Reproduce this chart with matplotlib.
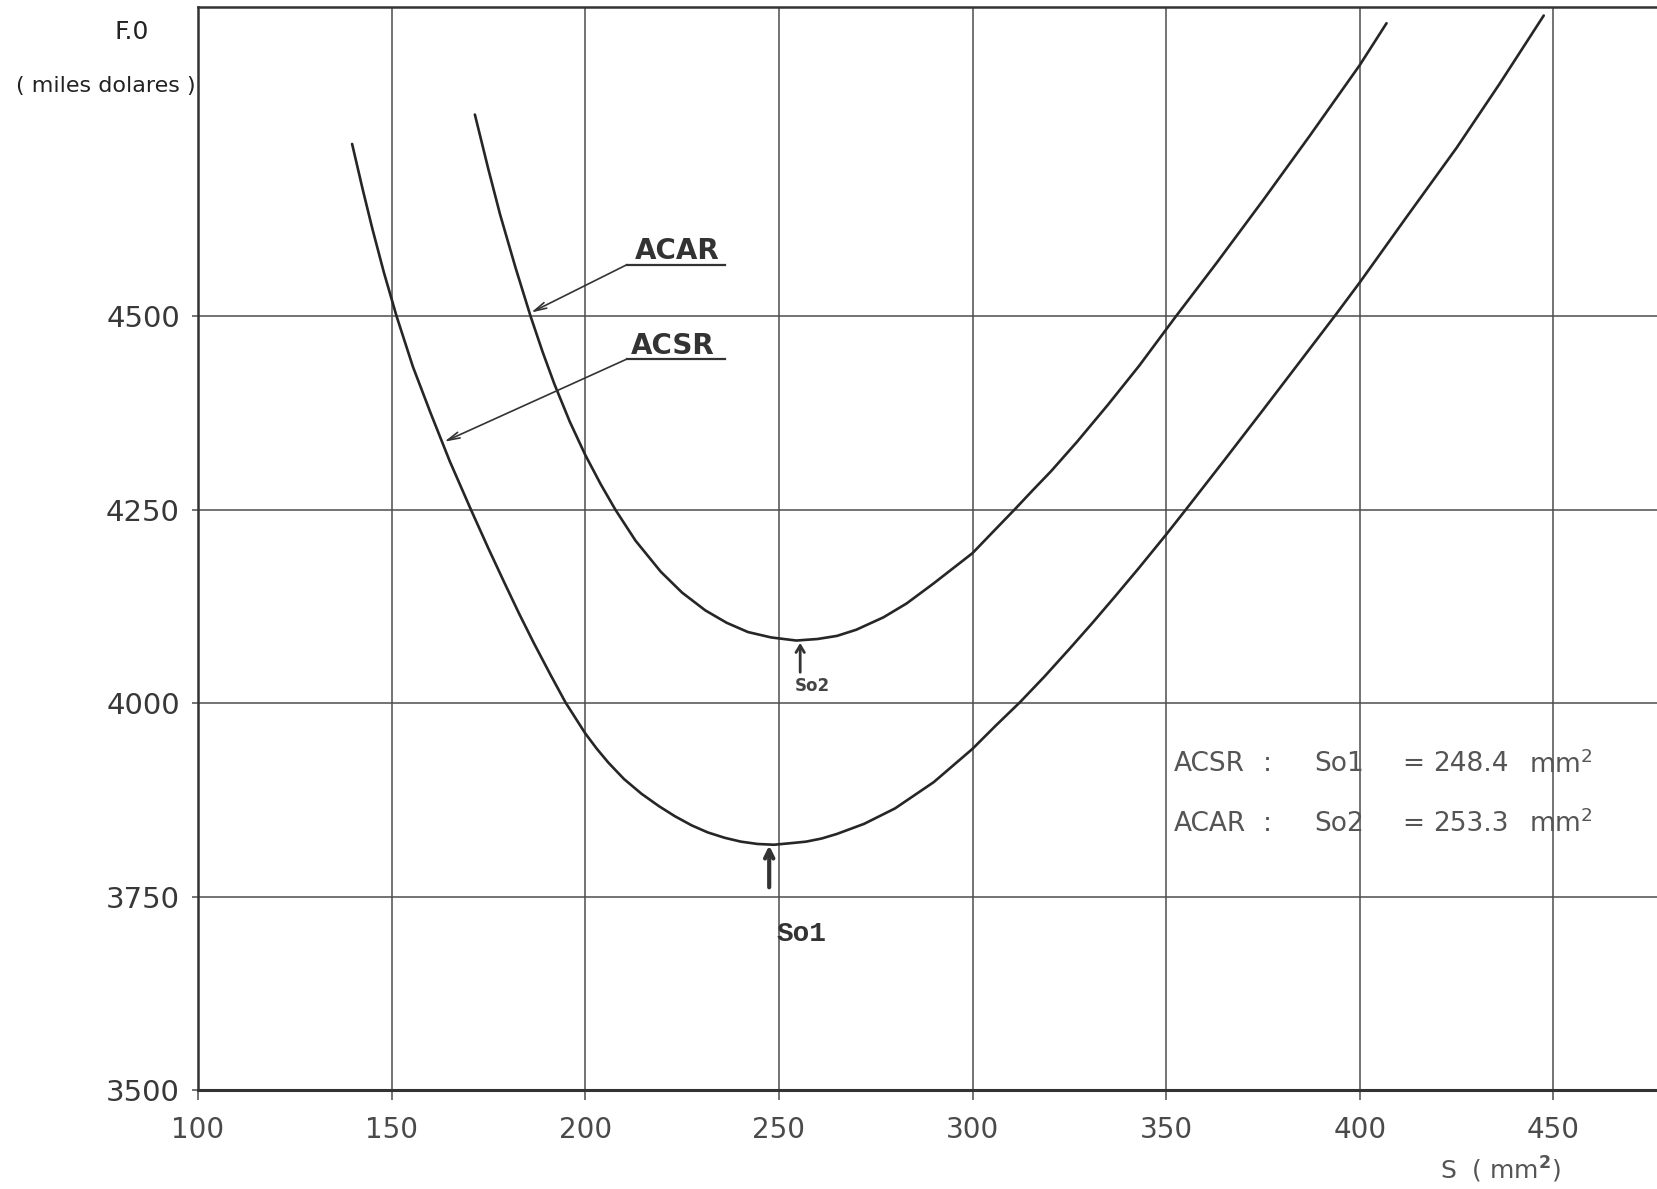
import matplotlib
matplotlib.use("Agg")
import matplotlib.pyplot as plt

# ---- data ----
acsr_x = [139.8, 142.5, 145.0, 148.0, 151.3, 155.5, 160.0, 165.0, 170.5, 175.0,
          179.1, 183.0, 186.8, 191.0, 194.9, 200.0, 203.0, 206.0, 210.0, 214.5,
          219.0, 223.1, 227.5, 231.6, 236.0, 240.2, 244.5, 248.7, 253.0, 257.0,
          261.0, 265.0, 272.0, 280.0, 290.0, 300.0, 306.0, 312.2, 318.5, 325.0,
          331.0, 336.8, 343.0, 350.0, 355.2, 365.0, 375.0, 384.0, 393.6, 400.0,
          412.0, 425.0, 436.0, 447.5]
acsr_y = [4723, 4665, 4614, 4557, 4500, 4435, 4376, 4313, 4250, 4200,
          4156, 4115, 4077, 4037, 4001, 3961, 3941, 3923, 3902, 3883,
          3867, 3854, 3842, 3833, 3826, 3821, 3818, 3817, 3819, 3821,
          3825, 3831, 3844, 3864, 3898, 3941, 3971, 4001, 4034, 4070,
          4104, 4138, 4175, 4218, 4251, 4314, 4379, 4438, 4501, 4544,
          4628, 4718, 4800, 4889]

acar_x = [171.5, 175.0, 178.0, 182.0, 185.9, 189.0, 192.0, 196.0, 200.0, 204.0,
          207.8, 213.0, 219.5, 225.0, 231.0, 236.5, 242.0, 248.0, 254.5, 260.0,
          265.0, 270.0, 277.0, 283.0, 290.0, 300.0, 305.0, 310.8, 315.5, 320.3,
          327.0, 335.0, 343.0, 352.5, 363.0, 375.0, 387.0, 400.0, 406.9]
acar_y = [4761, 4690, 4632, 4563, 4500, 4454, 4413, 4364, 4321, 4283,
          4250, 4210, 4170, 4143, 4120, 4104, 4092, 4085, 4081, 4083,
          4087, 4095, 4111, 4129, 4155, 4194, 4220, 4250, 4275, 4300,
          4338, 4386, 4436, 4500, 4569, 4650, 4733, 4825, 4879]

x_ticks = [100, 150, 200, 250, 300, 350, 400, 450]
y_ticks = [3500, 3750, 4000, 4250, 4500]
y_tick_labels = ["3500", "3750", "4000", "4250", "4500"]

so1_value = 248.4
so2_value = 253.3

# annotation anchor positions (data units)
acar_label_pos = (223.7, 4574)
acar_line = (210.8, 236.1, 4567)
acar_tip = (186.0, 4505)
acsr_label_pos = (222.6, 4452)
acsr_line = (210.8, 236.1, 4445)
acsr_tip = (163.6, 4338)

ink = "#262626"
grid_c = "#4d4d4d"

fig = plt.figure(figsize=(16.58, 11.89), dpi=100)
fig.patch.set_facecolor("white")
ax = fig.add_axes([0.1194, 0.0833, 0.8806, 0.9108])

ax.plot(acsr_x, acsr_y, color=ink, lw=1.9, solid_capstyle="round", zorder=3)
ax.plot(acar_x, acar_y, color=ink, lw=1.9, solid_capstyle="round", zorder=3)

ax.set_xlim(100, 477)
ax.set_ylim(3500, 4900)
ax.set_xticks(x_ticks)
ax.set_xticklabels([str(v) for v in x_ticks])
ax.set_yticks(y_ticks)
ax.set_yticklabels(y_tick_labels)
ax.grid(True, color=grid_c, lw=1.1, zorder=1)

for side in ["left", "top", "bottom"]:
    ax.spines[side].set_color("#333333")
ax.spines["left"].set_linewidth(1.8)
ax.spines["top"].set_linewidth(1.8)
ax.spines["bottom"].set_linewidth(2.2)
ax.spines["right"].set_visible(False)

ax.tick_params(axis="x", length=7, width=1.1, color=grid_c, pad=12,
               labelsize=20, labelcolor="#4a4a4a")
ax.tick_params(axis="y", length=4, width=1.1, color=grid_c, pad=9,
               labelsize=21, labelcolor="#383838")

# axis titles
fig.text(132 / 1658, 1 - 32 / 1189, "F.0", ha="center", va="center",
         fontsize=18, color="#222222")
fig.text(106 / 1658, 1 - 86 / 1189, "( miles dolares )", ha="center", va="center",
         fontsize=16, color="#222222")
fig.text(1500 / 1658, 1 - 1170 / 1189, "S  ( mm$^{\\mathbf{2}}$)", ha="center",
         va="center", fontsize=18, color="#555555")

# curve labels with leader lines
arrow_style = "->,head_length=0.9,head_width=0.22"
ax.text(*acar_label_pos, "ACAR", ha="center", va="baseline", fontsize=20,
        fontweight="bold", color="#333333")
ax.plot([acar_line[0], acar_line[1]], [acar_line[2], acar_line[2]], color="#333333", lw=1.6)
ax.annotate("", xy=acar_tip, xytext=(acar_line[0], acar_line[2]),
            arrowprops=dict(arrowstyle=arrow_style, lw=1.2, color="#333333",
                            shrinkA=0, shrinkB=0))
ax.text(*acsr_label_pos, "ACSR", ha="center", va="baseline", fontsize=20,
        fontweight="bold", color="#333333")
ax.plot([acsr_line[0], acsr_line[1]], [acsr_line[2], acsr_line[2]], color="#333333", lw=1.6)
ax.annotate("", xy=acsr_tip, xytext=(acsr_line[0], acsr_line[2]),
            arrowprops=dict(arrowstyle=arrow_style, lw=1.2, color="#333333",
                            shrinkA=0, shrinkB=0))

# optimum markers
ax.annotate("", xy=(so2_value + 2.2, 4078), xytext=(so2_value + 2.2, 4040),
            arrowprops=dict(arrowstyle="->,head_length=0.5,head_width=0.3",
                            lw=2.0, color="#333333", shrinkA=0, shrinkB=0))
ax.text(so2_value + 5.3, 4022, "So2", ha="center", va="center", fontsize=12,
        fontweight="bold", color="#444444")
ax.annotate("", xy=(so1_value - 0.9, 3816), xytext=(so1_value - 0.9, 3762),
            arrowprops=dict(arrowstyle="->,head_length=0.6,head_width=0.3",
                            lw=3.0, color="#333333", shrinkA=0, shrinkB=0))
ax.text(so1_value + 1.0, 3702, "So1", ha="left", va="center", fontsize=20,
        family=["Liberation Mono", "DejaVu Sans Mono"], fontweight="bold",
        color="#333333")

# results text
txt_kw = dict(ha="left", va="center", fontsize=19, color="#555555")
rows = [("ACSR", "So1", so1_value, 3921), ("ACAR", "So2", so2_value, 3844)]
for name, sym, val, yv in rows:
    ax.text(352.1, yv, name, **txt_kw)
    ax.text(375.0, yv, ":", **txt_kw)
    ax.text(388.3, yv, sym, **txt_kw)
    ax.text(411.0, yv, "=", **txt_kw)
    ax.text(419.0, yv, f"{val:.1f}", **txt_kw)
    ax.text(443.6, yv, "mm$^{2}$", **txt_kw)

fig.savefig("out.png", dpi=100, facecolor="white")
